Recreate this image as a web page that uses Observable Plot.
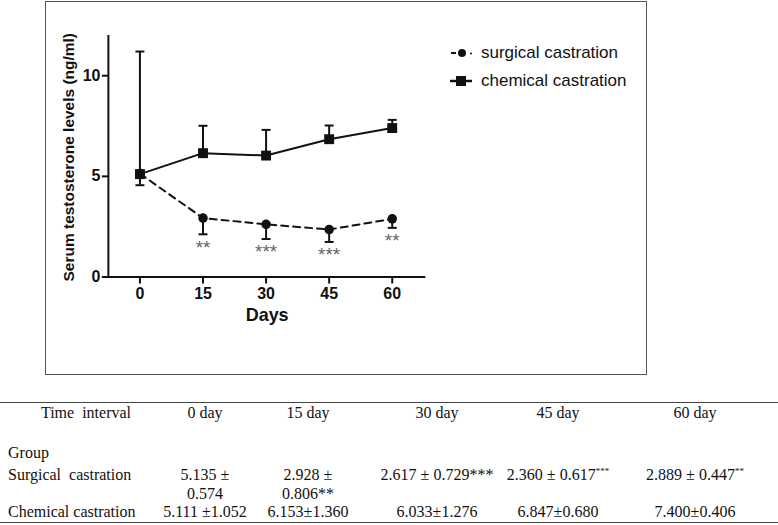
<!DOCTYPE html>
<html>
<head>
<meta charset="utf-8">
<script src="https://cdn.jsdelivr.net/npm/d3@7"></script>
<script src="https://cdn.jsdelivr.net/npm/@observablehq/plot@0.6"></script>
<style>
  html, body { margin: 0; padding: 0; background: #fff; }
  body { width: 778px; height: 525px; position: relative; overflow: hidden; }
  #box { position: absolute; left: 45px; top: 1px; width: 600px; height: 372px; border: 1.5px solid #555; }
  #chart { position: absolute; left: 0; top: 0; }
  #legend { position: absolute; left: 400px; top: 39px; font-family: "Liberation Sans", Arial, sans-serif; font-size: 17px; color: #111; }
  .lg { position: absolute; white-space: nowrap; height: 24px; line-height: 24px; }
  .lg svg { position: absolute; left: 0; top: 0; }
  .lg span { position: absolute; left: 35px; top: 0; }
  #table { position: absolute; left: 0; top: 0; width: 778px; height: 525px; font-family: "Liberation Serif", "Times New Roman", serif; font-size: 16px; color: #111; }
  .hl { position: absolute; left: 0; width: 778px; height: 0; border-top: 1.5px solid #444; }
  .cell { position: absolute; white-space: nowrap; line-height: 18px; }
  .c { transform: translateX(-50%); text-align: center; }
  sup { font-size: 9px; vertical-align: 6px; line-height: 0; }
</style>
</head>
<body>
<div id="box"><div id="chart"></div><div id="legend"></div></div>
<div id="table"></div>
<script>
// ---- chart data ----
const days = [0, 15, 30, 45, 60];
const surgicalMean = [5.135, 2.928, 2.617, 2.360, 2.889];
const surgicalErr = [0.574, 0.806, 0.729, 0.617, 0.447];
const chemicalMean = [5.111, 6.153, 6.033, 6.847, 7.400];
const chemicalErr = [6.09, 1.360, 1.276, 0.680, 0.406]; // day-0 bar as drawn in the plot
const stars = ["", "**", "***", "***", "**"];
const yTicks = [0, 5, 10];
const seriesNames = ["surgical castration", "chemical castration"];

// ---- table data ----
const tableHeader = ["Time  interval", "0 day", "15 day", "30 day", "45 day", "60 day"];
const groupLabel = "Group";
const rowNames = ["Surgical  castration", "Chemical castration"];
const surgicalCells = [
  ["5.135 ±", "0.574"],
  ["2.928 ±", "0.806**"],
  ["2.617 ± 0.729***"],
  ["2.360 ± 0.617<sup>***</sup>"],
  ["2.889 ± 0.447<sup>**</sup>"]
];
const chemicalCells = ["5.111 ±1.052", "6.153±1.360", "6.033±1.276", "6.847±0.680", "7.400±0.406"];

const surgical = days.map((d, i) => ({day: d, mean: surgicalMean[i], lo: surgicalMean[i] - surgicalErr[i], star: stars[i]}));
const chemical = days.map((d, i) => ({day: d, mean: chemicalMean[i], hi: chemicalMean[i] + chemicalErr[i]}));

const capSymbol = { draw(ctx) { ctx.moveTo(-4.5, 0); ctx.lineTo(4.5, 0); } };

const chart = Plot.plot({
  width: 601,
  height: 373,
  marginLeft: 62,
  marginRight: 221,
  marginTop: 33,
  marginBottom: 98,
  style: { fontFamily: "Liberation Sans, Arial, sans-serif", color: "#111", background: "transparent", overflow: "visible" },
  x: { domain: [-7.5, 68], axis: null },
  y: { domain: [0, 12], axis: null },
  marks: [
    Plot.axisY({ ticks: yTicks, tickSize: 6, tickPadding: 2, fontSize: 16, fontWeight: "bold", strokeWidth: 2, label: null, tickFormat: d3.format("d") }),
    Plot.axisX({ ticks: days, tickSize: 7, tickPadding: 4, fontSize: 16, fontWeight: "bold", strokeWidth: 2, label: null, tickFormat: d3.format("d") }),
    Plot.ruleX([-7.5], { strokeWidth: 2, stroke: "#111" }),
    Plot.ruleY([0], { strokeWidth: 2, stroke: "#111", insetLeft: -6 }),
    Plot.text(["Days"], { frameAnchor: "bottom", dy: 44, fontSize: 18, fontWeight: "bold", fill: "#111" }),
    Plot.text(["Serum testosterone levels (ng/ml)"], { frameAnchor: "left", textAnchor: "middle", dx: -39, dy: 1, rotate: -90, fontSize: 15.5, fontWeight: "bold", fill: "#111" }),
    // error bars
    Plot.ruleX(surgical, { x: "day", y1: "mean", y2: "lo", strokeWidth: 2, stroke: "#111" }),
    Plot.dot(surgical, { x: "day", y: "lo", symbol: capSymbol, stroke: "#111", strokeWidth: 2, fill: "none" }),
    Plot.ruleX(chemical, { x: "day", y1: "mean", y2: "hi", strokeWidth: 2, stroke: "#111" }),
    Plot.dot(chemical, { x: "day", y: "hi", symbol: capSymbol, stroke: "#111", strokeWidth: 2, fill: "none" }),
    // lines
    Plot.line(surgical, { x: "day", y: "mean", stroke: "#111", strokeWidth: 2, strokeDasharray: "7,5" }),
    Plot.line(chemical, { x: "day", y: "mean", stroke: "#111", strokeWidth: 2 }),
    // markers
    Plot.dot(surgical, { x: "day", y: "mean", r: 4.8, fill: "#111", stroke: "none" }),
    Plot.dot(chemical, { x: "day", y: "mean", symbol: "square", r: 5.6, fill: "#111", stroke: "none" }),
    // significance stars
    Plot.text(surgical, { x: "day", y: "lo", text: "star", lineAnchor: "top", dy: 6, fontSize: 19, fill: "#666" })
  ]
});
document.getElementById("chart").appendChild(chart);

// legend
const legend = document.getElementById("legend");
seriesNames.forEach((name, i) => {
  const row = document.createElement("div");
  row.className = "lg";
  row.style.top = (i * 28) + "px";
  const sym = i === 0
    ? `<svg width="30" height="24"><line x1="5" y1="12" x2="10" y2="12" stroke="#111" stroke-width="2"/><circle cx="16" cy="12" r="4" fill="#111"/><circle cx="25" cy="12.5" r="1" fill="#111"/></svg>`
    : `<svg width="30" height="24"><line x1="4" y1="12" x2="26" y2="12" stroke="#111" stroke-width="2.5"/><rect x="10" y="7" width="10" height="10" fill="#111"/></svg>`;
  row.innerHTML = sym + `<span>${name}</span>`;
  legend.appendChild(row);
});

// table
const table = document.getElementById("table");
function cell(html, x, y, centered) {
  const d = document.createElement("div");
  d.className = "cell" + (centered ? " c" : "");
  d.style.left = x + "px";
  d.style.top = y + "px";
  d.style.whiteSpace = "pre";
  d.innerHTML = html;
  table.appendChild(d);
}
const colX = [86, 205, 308, 437, 558, 695];
[402, 522].forEach(y => { const l = document.createElement("div"); l.className = "hl"; l.style.top = y + "px"; table.appendChild(l); });
tableHeader.forEach((h, i) => cell(h, colX[i], 404, true));
cell(groupLabel, 8, 444, false);
cell(rowNames[0], 8, 466, false);
cell(rowNames[1], 8, 503, false);
surgicalCells.forEach((lines, i) => {
  if (lines.length === 2) {
    cell(lines[0], colX[i + 1], 466, true);
    cell(lines[1], colX[i + 1], 485, true);
  } else {
    cell(lines[0], colX[i + 1], 466, true);
  }
});
chemicalCells.forEach((t, i) => cell(t, colX[i + 1], 503, true));
</script>
</body>
</html>
